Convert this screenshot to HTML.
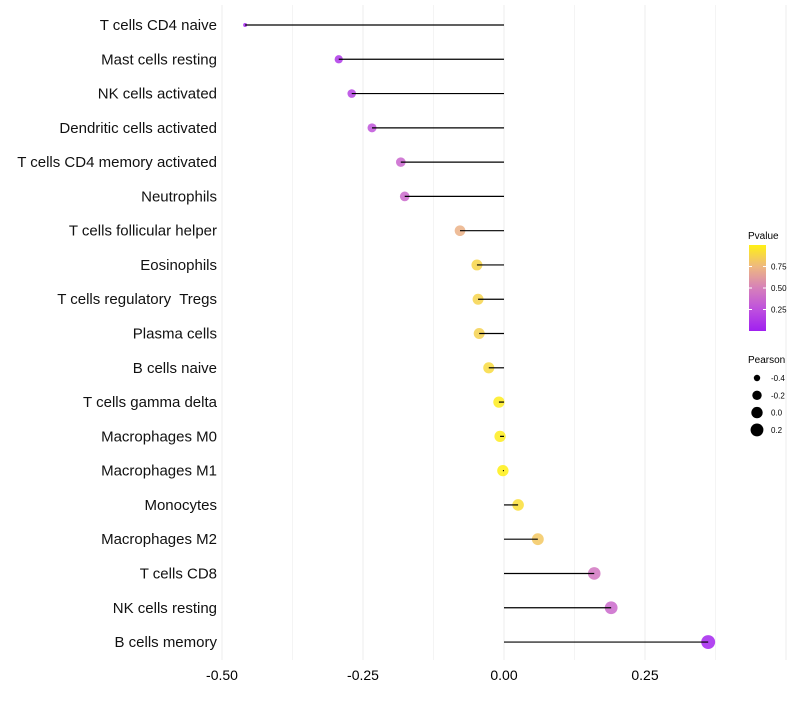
<!DOCTYPE html>
<html><head><meta charset="utf-8"><style>
body{margin:0;background:#fff;font-family:"Liberation Sans",sans-serif}
svg text{font-family:"Liberation Sans",sans-serif;white-space:pre}
</style></head><body>
<svg id="chart" width="800" height="700"></svg>
<script>
const categories=["T cells CD4 naive","Mast cells resting","NK cells activated","Dendritic cells activated","T cells CD4 memory activated","Neutrophils","T cells follicular helper","Eosinophils","T cells regulatory  Tregs","Plasma cells","B cells naive","T cells gamma delta","Macrophages M0","Macrophages M1","Monocytes","Macrophages M2","T cells CD8","NK cells resting","B cells memory"];
const pearson=[-0.459,-0.293,-0.270,-0.234,-0.183,-0.176,-0.078,-0.048,-0.046,-0.044,-0.027,-0.009,-0.007,-0.002,0.025,0.060,0.160,0.190,0.362];
const pvalues=[0.03,0.12,0.18,0.27,0.36,0.38,0.72,0.88,0.87,0.86,0.9,0.98,0.98,1.0,0.92,0.82,0.45,0.38,0.03];
const xTicks=[-0.5,-0.25,0,0.25];
const xTickLabels=["-0.50","-0.25","0.00","0.25"];
const legendTicks=[0.25,0.5,0.75];
const sizeLegend=[-0.4,-0.2,0.0,0.2];

const NS="http://www.w3.org/2000/svg";
const svg=document.getElementById('chart');
function mk(t,a,p){const e=document.createElementNS(NS,t);for(const k in a)e.setAttribute(k,a[k]);(p||svg).appendChild(e);return e;}
const x=v=>504+v*564;
const y=i=>25+i*34.28;
const pMin=-0.46,pMax=0.37;
const r=v=>1.8+5.2*Math.sqrt(Math.max(0,Math.min(1,(v-pMin)/(pMax-pMin))));
const stops=[[160,32,240],[190,80,222],[214,128,186],[238,184,128],[255,240,20]];
function col(p){p=Math.max(0,Math.min(1,p));const s=p*4,i=Math.min(3,Math.floor(s)),f=s-i;const a=stops[i],b=stops[i+1];return `rgb(${a.map((v,k)=>Math.round(v+(b[k]-v)*f))})`;}

for(let k=-4;k<=4;k++){
  const v=k*0.125;
  const g=mk('line',{x1:x(v),x2:x(v),y1:5,y2:660,stroke:'#ececec','stroke-width':k%2===0?1:0.6});
  
  
}
xTicks.forEach((v,i)=>{
  const t=mk('text',{x:x(v),y:680,'text-anchor':'middle','font-size':14,fill:'#000'});
  t.textContent=xTickLabels[i];
  
  
});
categories.forEach((c,i)=>{
  const t=mk('text',{x:217,y:y(i)+5,'text-anchor':'end','font-size':15,fill:'#111'});
  t.textContent=c;
  
  
  const d=mk('circle',{cx:x(pearson[i]),cy:y(i),r:r(pearson[i]),fill:col(pvalues[i]),'fill-opacity':0.85});
  
  
  const l=mk('line',{x1:x(0),x2:x(pearson[i]),y1:y(i),y2:y(i),stroke:'#000','stroke-width':1.2});
  
  
});
const defs=mk('defs',{});
const lg=mk('linearGradient',{id:'pg',x1:0,y1:1,x2:0,y2:0},defs);
stops.forEach((s,i)=>mk('stop',{offset:i/4,'stop-color':`rgb(${s})`},lg));
const lt=mk('text',{x:748,y:239,'font-size':10,fill:'#000'});lt.textContent='Pvalue';


const bar=mk('rect',{x:749,y:245,width:17,height:86,fill:'url(#pg)'});


legendTicks.forEach(v=>{
  const yy=331-v*86;
  mk('line',{x1:749,x2:752,y1:yy,y2:yy,stroke:'#fff'});mk('line',{x1:763,x2:766,y1:yy,y2:yy,stroke:'#fff'});
  const t=mk('text',{x:771,y:yy+3,'font-size':8,fill:'#000'});t.textContent=v.toFixed(2);
  
  
});
const st=mk('text',{x:748,y:363,'font-size':10,fill:'#000'});st.textContent='Pearson';


sizeLegend.forEach((v,i)=>{
  const yy=378+i*17.3;
  const c=mk('circle',{cx:757,cy:yy,r:r(v),fill:'#000'});
  
  
  const t=mk('text',{x:771,y:yy+3,'font-size':8,fill:'#000'});t.textContent=v.toFixed(1);
  
  
});
</script>
</body></html>
